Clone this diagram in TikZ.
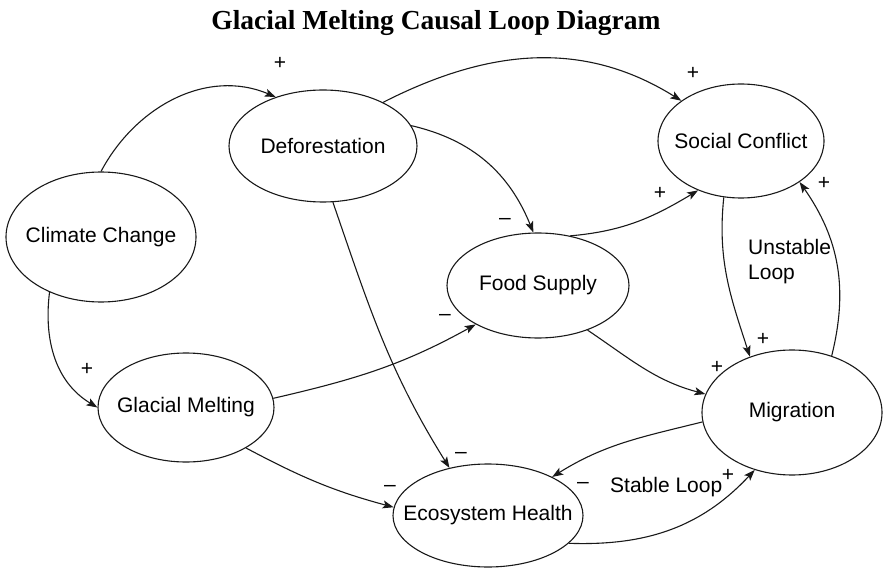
\documentclass[tikz,border=0pt]{standalone}
\usepackage{fontspec}
\setmainfont{Liberation Sans}
\newfontfamily\titlefont{Liberation Serif}
\usetikzlibrary{shapes.geometric,arrows.meta}
\tikzset{
  var/.style={ellipse, draw=black!90, line width=1.1pt, inner sep=0pt, font=\fontsize{21}{25}\selectfont},
  link/.style={draw=black!90, line width=1.1pt, -{Stealth[length=11pt,width=8pt,inset=2.5pt]}},
  sgn/.style={inner sep=0pt, font=\fontsize{21}{25}\selectfont},
  lbl/.style={inner sep=0pt, font=\fontsize{21}{25}\selectfont, align=left},
}
\newcommand{\nt}[1]{\makebox[0pt]{#1}}
\begin{document}
\begin{tikzpicture}[x=1pt,y=1pt]
\useasboundingbox (0,0) rectangle (883,571);
\node[inner sep=0pt, anchor=base, font=\titlefont\bfseries\fontsize{27.5}{30}\selectfont] (title) at (436,541) {Glacial Melting Causal Loop Diagram};

\node[var, minimum width=190pt, minimum height=130pt] (cc) at (101,334) {\nt{Climate Change}};
\node[var, minimum width=188pt, minimum height=112pt] (def) at (323,425) {\nt{Deforestation}};
\node[var, minimum width=166pt, minimum height=114pt] (sc) at (741,430) {\nt{Social Conflict}};
\node[var, minimum width=182pt, minimum height=105pt] (fs) at (538,285.5) {\nt{Food Supply}};
\node[var, minimum width=176pt, minimum height=109pt] (gm) at (186,163.5) {\nt{Glacial Melting}};
\node[var, minimum width=180pt, minimum height=125pt] (mig) at (792,158.5) {\nt{Migration}};
\node[var, minimum width=190pt, minimum height=103pt] (eh) at (488,55.5) {\nt{Ecosystem Health}};

\draw[link] (cc.north) to[out=62, in=157] (def.134);
\draw[link] (cc.227) to[out=-97, in=149] (gm.180);
\draw[link] (def.36) to[out=27, in=148] (sc.146);
\draw[link] (def.13) to[out=-13, in=112] (fs.95);
\draw[link] (def.-80) to[out=-71, in=122] (eh.129);
\draw[link] (fs.57) to[out=5, in=211] (sc.229);
\draw[link] (gm.6) to[out=13, in=209] (fs.212);
\draw[link] (gm.-34) to[out=-28, in=165] (eh.175);
\draw[link] (fs.-42) to[out=-34, in=165] (mig.168);
\draw[link] (sc.-107) to[out=-96, in=108] (mig.127);
\draw[link] (mig.55) to[out=76, in=-55] (sc.-35);
\draw[link] (mig.186) to[out=194, in=32] (eh.31);
\draw[link] (eh.-19) to[out=-2, in=227] (mig.237);

\node[sgn] (s1) at (280,508) {+};
\node[sgn] (s2) at (87,202) {+};
\node[sgn] (s3) at (693,498) {+};
\node[sgn] (s4) at (660,378) {+};
\node[sgn] (s5) at (505,350) {–};
\node[sgn] (s6) at (445,254) {–};
\node[sgn] (s7) at (763,232) {+};
\node[sgn] (s8) at (824,388) {+};
\node[sgn] (s9) at (717,204) {+};
\node[sgn] (s10) at (461,116) {–};
\node[sgn] (s11) at (583,86) {–};
\node[sgn] (s12) at (390,83) {–};
\node[sgn] (s13) at (728,96) {+};

\node[lbl, anchor=west] (unst) at (748,309) {Unstable\\Loop};
\node[lbl, anchor=base west] (stab) at (610,79) {Stable Loop};
\end{tikzpicture}
\end{document}
